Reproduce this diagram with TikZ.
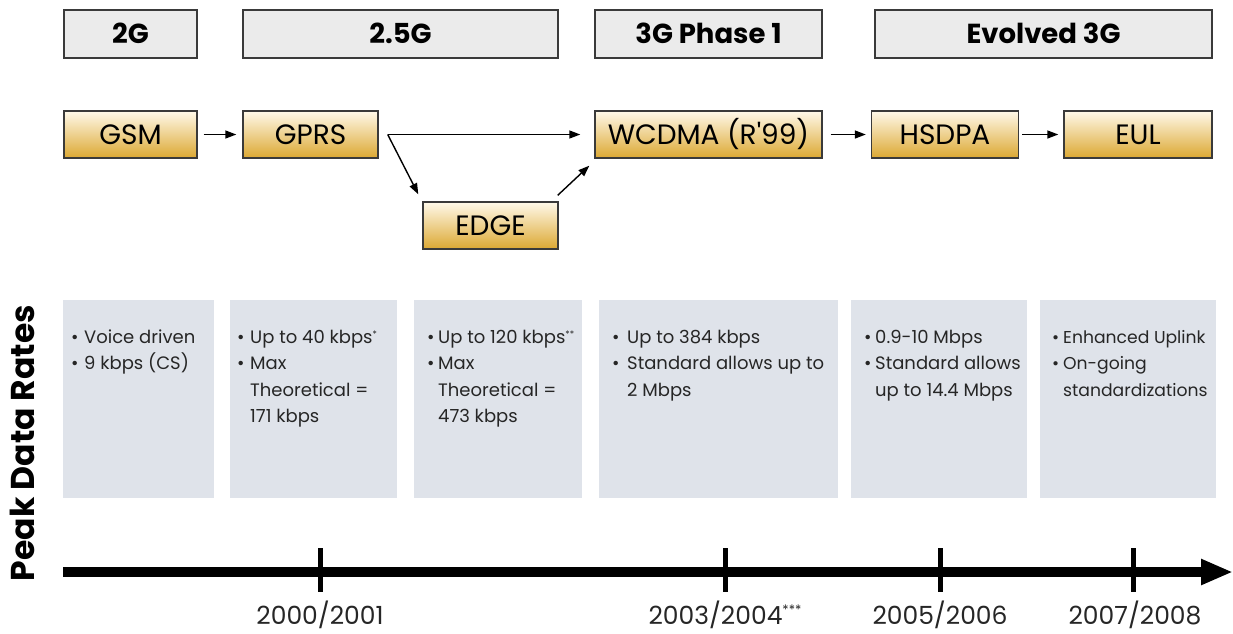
\documentclass[tikz,border=0pt]{standalone}
\usepackage{fontspec}
\setmainfont{Poppins}
\newfontfamily\qfont{Poppins}[Ligatures=TeXOff]
\usetikzlibrary{arrows.meta}
\definecolor{lblfill}{HTML}{EBEBEB}
\definecolor{lbldraw}{HTML}{3A3A3A}
\definecolor{datafill}{HTML}{DFE3EA}
\definecolor{goldtop}{HTML}{FFF9EA}
\definecolor{goldbot}{HTML}{DCA832}
\newcommand\bul[1]{\makebox[#1][l]{\textbullet}}
\newcommand\sast[1]{\raisebox{6pt}{\fontsize{9}{9}\selectfont #1}}
\newcommand\yast[1]{\raisebox{10pt}{\fontsize{13}{13}\selectfont #1}}
\newcommand\fstrut{\rule{0pt}{14pt}}
\begin{document}
\begin{tikzpicture}[x=1pt,y=-1pt,
 lbl/.style={draw=lbldraw, fill=lblfill, line width=1.4pt, minimum height=48pt, inner sep=0pt, font=\bfseries\fontsize{27.5}{27.5}\selectfont, text height=19pt, text depth=0pt},
 gold/.style={draw=lbldraw, top color=goldtop, bottom color=goldbot, line width=1.4pt, minimum height=47pt, inner sep=0pt, font=\fontsize{28}{28}\selectfont, text height=19.5pt, text depth=0pt},
 data/.style={fill=datafill, inner sep=0pt, minimum height=198pt},
 dtext/.style={anchor=north west, inner sep=0pt, align=left, font=\fontsize{18}{26.5}\selectfont, text=black!85},
 arr/.style={line width=1.4pt, -{Triangle[length=11pt,width=8pt]}},
 year/.style={anchor=base, inner sep=0pt, font=\fontsize{25}{25}\selectfont, text=black!85},
 tick/.style={line width=5pt}
]
\useasboundingbox (0,0) rectangle (1233,633);

% generation labels
\node[lbl, minimum width=133pt] (l2g)  at (130.5,34) {2G};
\node[lbl, minimum width=315pt] (l25g) at (400.5,34) {2.5G};
\node[lbl, minimum width=227pt] (l3g)  at (708.5,34) {3G Phase 1};
\node[lbl, minimum width=337pt] (levo) at (1043.5,34) {Evolved 3G};

% technology boxes
\node[gold, minimum width=133pt] (gsm)   at (130.5,134.5) {GSM};
\node[gold, minimum width=135pt] (gprs)  at (310.5,134.5) {GPRS};
\node[gold, minimum width=227pt] (wcdma) at (708.5,134.5) {WCDMA (R{\qfont'}99)};
\node[gold, minimum width=147pt] (hsdpa) at (945,134.5) {HSDPA};
\node[gold, minimum width=148pt] (eul)   at (1138,134.5) {EUL};
\node[gold, minimum width=135pt] (edge)  at (490.5,225.5) {EDGE};

% arrows
\draw[arr] ([xshift=6pt]gsm.east) -- ([xshift=-6pt]gprs.west);
\draw[arr] ([xshift=9pt]gprs.east) -- ([xshift=-14pt]wcdma.west);
\draw[arr] ([xshift=9pt]gprs.east) -- ([shift={(-4pt,7pt)}]edge.north west);
\draw[arr] ([shift={(-1pt,6pt)}]edge.north east) -- ([shift={(-5pt,-7pt)}]wcdma.south west);
\draw[arr] ([xshift=8pt]wcdma.east) -- ([xshift=-5pt]hsdpa.west);
\draw[arr] ([xshift=3pt]hsdpa.east) -- ([xshift=-5pt]eul.west);

% data rate boxes
\node[data, minimum width=151pt] (d1) at (138.5,399) {};
\node[data, minimum width=167pt] (d2) at (313.5,399) {};
\node[data, minimum width=168pt] (d3) at (498,399) {};
\node[data, minimum width=239pt] (d4) at (718.5,399) {};
\node[data, minimum width=176pt] (d5) at (939,399) {};
\node[data, minimum width=176pt] (d6) at (1128,399) {};

\node[dtext] (t1) at (71,329) {\fstrut\bul{13pt}Voice driven\\\bul{13pt}9 kbps (CS)};
\node[dtext] (t2) at (237,329) {\fstrut\bul{13pt}Up to 40 kbps\sast{*}\\\bul{13pt}Max\\\hspace*{13pt}Theoretical =\\\hspace*{13pt}171 kbps};
\node[dtext] (t3) at (427,329) {\fstrut\bul{11pt}Up to 120 kbps\sast{**}\\\bul{11pt}Max\\\hspace*{11pt}Theoretical =\\\hspace*{11pt}473 kbps};
\node[dtext] (t4) at (612,329) {\fstrut\bul{15pt}Up to 384 kbps\\\bul{15pt}Standard allows up to\\\hspace*{15pt}2 Mbps};
\node[dtext] (t5) at (864,329) {\fstrut\bul{11pt}0.9-10 Mbps\\\bul{11pt}Standard allows\\\hspace*{11pt}up to 14.4 Mbps};
\node[dtext, font=\fontsize{17.2}{26.5}\selectfont] (t6) at (1052,329) {\fstrut\bul{11pt}Enhanced Uplink\\\bul{11pt}On-going\\\hspace*{11pt}standardizations};

% side label
\node[rotate=90, inner sep=0pt, font=\bfseries\fontsize{33}{33}\selectfont] (peak) at (22,443) {Peak Data Rates};

% timeline
\coordinate (tls) at (63,572);
\coordinate (tle) at (1233,572);
\draw[line width=10pt, -{Triangle[length=32pt,width=24pt]}] (tls) -- (tle);
\draw[tick] (320,548) -- (320,592);
\draw[tick] (725,548) -- (725,592);
\draw[tick] (940,548) -- (940,592);
\draw[tick] (1133,548) -- (1133,592);

\node[year] (y1) at (320,624) {2000/2001};
\node[year] (y2) at (725,624) {2003/2004\yast{***}};
\node[year] (y3) at (940,624) {2005/2006};
\node[year] (y4) at (1135,624) {2007/2008};
\end{tikzpicture}
\end{document}
